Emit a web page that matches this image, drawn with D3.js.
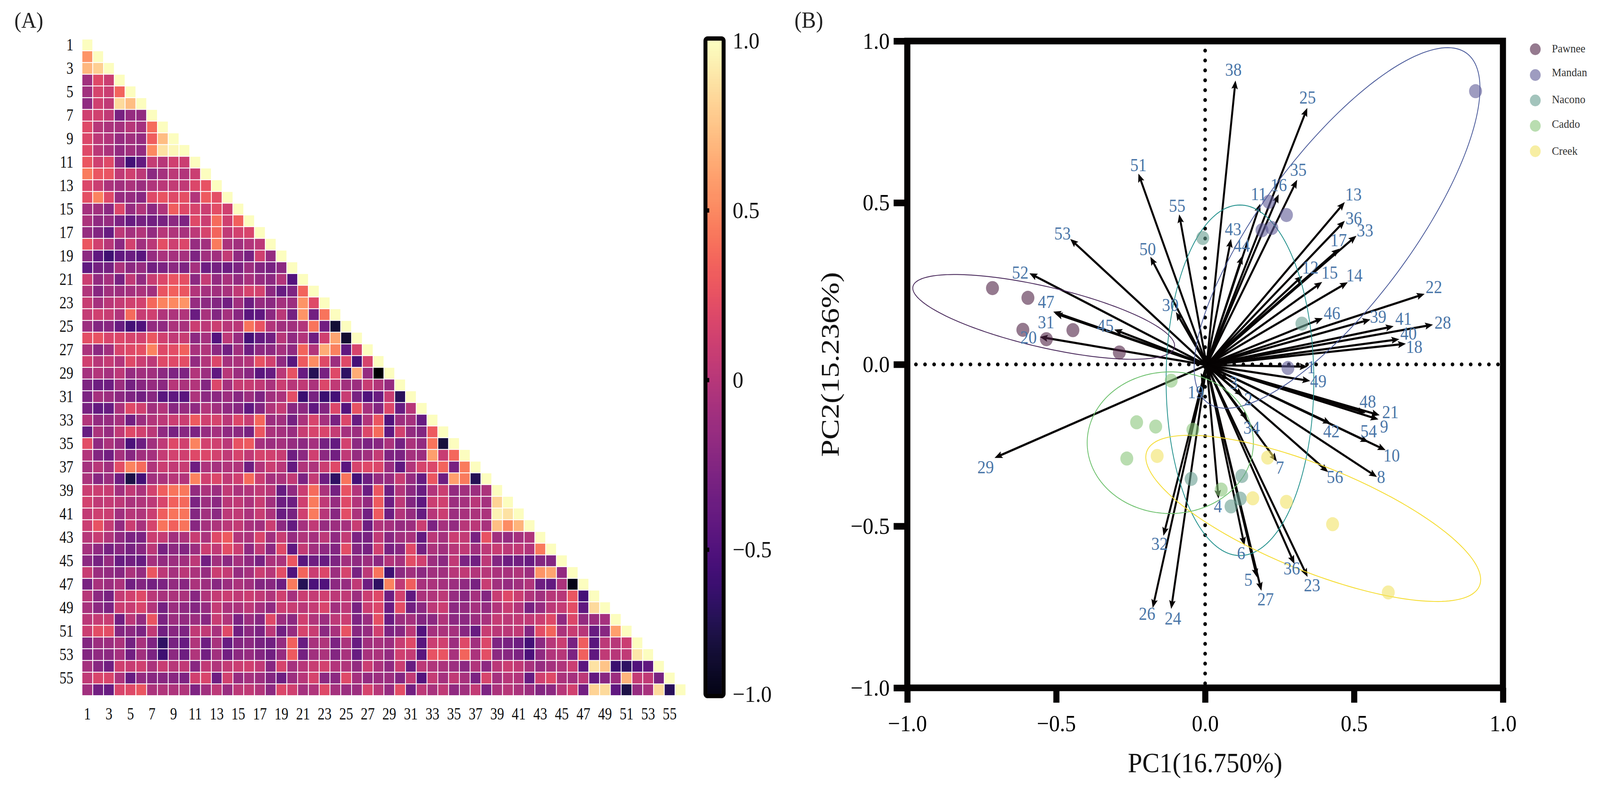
<!DOCTYPE html>
<html>
<head>
<meta charset="utf-8">
<script src="https://d3js.org/d3.v7.min.js"></script>
<style>
  html, body { margin: 0; height: 100%; background: #fff; overflow: hidden; }
  svg { display: block; width: 100vw; height: 100vh; }
  text { font-family: "Liberation Serif", serif; fill: #111; }
  .axis path, .axis line { stroke: #050303; }
</style>
</head>
<body>
<svg id="chart" viewBox="0 0 4451 2024" preserveAspectRatio="none"></svg>
<script>
// Correlation matrix, lower triangle
const corrRows = [
  [1],
  [.55,1],
  [.7,.8,1],
  [-.1,.2,.1,1],
  [-.1,.15,.1,.35,1],
  [-.18,.12,.05,.85,.72,1],
  [.12,.13,.05,-.3,-.15,-.17,1],
  [.2,0,-.05,-.08,0,-.08,.38,1],
  [.18,.03,-.02,-.15,-.1,-.15,.32,.72,1],
  [.2,.02,-.05,-.17,-.1,-.17,.5,.88,.97,1],
  [.28,.12,.2,-.2,-.55,-.4,.07,0,.12,.1,1],
  [.45,.28,.27,.05,.12,.03,-.2,-.08,.03,-.02,.1,1],
  [.18,.1,-.05,-.1,-.05,-.13,-.03,.02,.06,.05,.18,.25,1],
  [.24,.48,.2,-.15,-.15,-.22,.2,.26,.2,.24,-.02,.3,.23,1],
  [-.08,-.1,-.2,.18,-.15,-.03,-.2,-.03,.32,.2,.15,.1,.22,.12,1],
  [-.05,-.18,-.15,-.28,-.38,-.32,-.33,-.3,-.2,-.27,.2,.1,.38,.12,.33,1],
  [-.15,-.25,-.38,.03,-.08,-.02,-.17,0,-.03,-.07,.03,.15,.35,.05,.14,.17,1],
  [.28,.13,0,-.2,.14,-.1,.02,.23,.11,.18,-.15,-.1,.45,-.05,-.1,-.02,.03,1],
  [-.2,-.42,-.58,-.42,-.36,-.45,-.15,-.06,-.08,-.08,-.27,-.1,-.1,.06,-.18,-.3,.12,-.15,1],
  [-.42,-.32,-.32,-.05,-.2,-.15,-.33,-.28,-.2,-.27,-.08,-.35,-.32,-.35,-.28,-.12,-.25,-.3,-.2,1],
  [.1,-.17,-.08,-.3,.05,-.17,.08,.18,.27,.24,-.2,.07,-.17,-.07,-.17,-.07,-.15,-.2,-.02,-.48,1],
  [-.03,-.22,-.1,-.12,-.08,-.05,-.1,.27,.33,.28,-.02,-.08,-.1,-.07,.05,.15,.14,-.2,-.38,-.27,.35,1],
  [.08,-.08,.02,.07,.13,.14,.36,.48,.5,.55,-.15,-.2,-.25,-.33,-.1,-.35,-.15,-.2,-.08,-.13,.55,.2,1],
  [.07,.12,.08,-.03,.38,.08,.12,-.03,-.04,-.03,-.37,-.07,-.25,-.08,-.22,-.45,-.42,-.2,.02,-.32,.55,-.33,.42,1],
  [-.12,-.25,-.22,-.38,-.55,-.5,-.17,-.18,-.05,-.07,.1,.03,.1,.01,.02,.42,.26,-.02,-.1,-.1,-.02,.42,-.33,-.8,1],
  [.23,.25,.17,.18,.15,.14,.28,.12,.05,.08,-.2,-.08,-.48,.03,-.15,-.55,-.4,-.33,0,-.18,-.02,-.35,.12,.62,-.82,1],
  [-.05,-.2,-.1,.16,.2,.24,.48,.2,.22,.33,-.07,-.03,-.2,-.33,-.1,-.35,-.2,-.2,-.08,-.18,.35,-.02,.65,.47,-.42,.15,1],
  [.12,0,.07,-.02,.2,.1,.03,.2,.2,.22,-.17,-.02,.18,-.08,-.05,-.01,.25,.13,-.18,-.45,.3,.52,.2,-.12,.2,-.55,.15,1],
  [-.08,-.02,-.08,.03,-.15,-.1,-.1,-.2,-.27,-.27,-.02,-.12,-.42,0,-.13,-.22,-.45,-.38,.02,.25,-.38,-.7,-.3,.2,-.65,.65,-.17,-1,1],
  [-.27,-.35,-.35,-.13,-.32,-.22,-.15,-.2,0,-.05,-.02,-.25,.18,-.08,.08,.08,.05,-.06,.1,0,.05,-.05,.18,.05,-.1,-.12,.08,-.01,-.15,1],
  [-.28,-.08,-.12,-.2,-.27,-.33,-.22,-.45,-.42,-.45,-.04,-.2,-.2,-.12,-.22,-.12,-.27,-.1,-.05,.22,-.6,-.3,-.6,-.55,.08,-.3,-.5,-.37,.08,-.68,1],
  [-.3,-.4,-.38,-.05,.2,.12,-.1,-.02,-.22,-.15,-.18,-.02,-.1,-.18,-.22,-.42,-.25,-.03,.07,-.22,-.2,-.42,-.25,.18,-.48,.25,-.08,-.25,.18,-.38,0,1],
  [-.02,-.17,-.15,-.08,-.33,-.13,-.02,.03,.1,.1,.3,.12,.15,.02,.18,.08,.36,-.12,-.1,-.32,-.05,.16,-.08,-.3,.18,-.38,-.02,.28,-.5,-.12,-.08,-.38,1],
  [-.38,-.05,-.15,.05,.2,.13,.02,-.18,-.3,-.22,-.28,-.15,-.08,-.18,-.2,-.3,.28,-.05,-.08,-.14,.08,.16,.17,.07,-.08,-.12,.18,.38,-.42,.13,-.17,-.25,.3,1],
  [.22,-.18,-.05,-.15,-.52,-.35,-.1,.04,.2,.13,.48,.14,.12,.02,.25,.3,-.08,-.12,-.08,-.15,-.2,-.08,-.32,-.4,.14,-.2,-.28,-.22,-.05,-.32,-.05,-.17,.42,-.78,1],
  [-.02,-.25,-.33,-.08,-.22,-.1,-.08,.07,.14,.12,.2,.18,.14,.05,.15,.05,.15,.13,.08,-.35,-.2,.12,-.2,-.33,.04,-.15,-.1,.07,-.27,-.28,-.08,-.12,.6,.08,.36,1],
  [-.08,0,-.1,.22,.48,.38,-.03,.1,.06,.08,-.35,-.04,-.08,-.03,-.03,-.35,-.02,.1,.01,-.4,-.03,-.04,.1,.2,-.45,.15,.2,.18,-.14,-.42,-.02,.15,.18,.35,-.3,.45,1],
  [-.05,-.22,-.13,-.35,-.75,-.55,-.1,-.05,0,-.02,.48,.12,.18,.05,.12,.38,.1,-.08,-.05,.05,-.28,.06,-.35,-.65,.42,-.55,-.35,-.15,-.15,.08,-.15,-.38,.28,-.35,.6,.45,-.7,1],
  [.1,.1,.08,-.1,.05,-.05,.14,.32,.42,.43,-.17,-.05,-.12,.05,-.05,-.02,.05,0,-.38,-.18,.1,.38,-.05,-.32,.25,-.02,-.36,.28,-.35,-.02,-.2,-.36,-.02,.1,-.17,-.1,-.12,-.05,1],
  [.14,.05,.07,.03,-.05,-.03,.03,.17,.33,.37,-.28,-.12,-.2,.02,.05,-.05,.08,-.1,-.35,-.35,.12,.45,.04,-.15,.2,-.02,-.17,.3,-.35,.03,-.25,-.42,.1,.12,-.12,-.08,.01,-.08,.82,1],
  [.06,.11,.1,-.1,0,-.03,.1,.32,.42,.42,-.24,-.1,-.2,.03,.05,-.05,.08,-.05,-.37,-.3,.12,.45,0,-.22,.22,-.05,-.33,.3,-.35,-.02,-.15,-.38,0,.1,-.12,-.07,-.05,-.05,.95,.88,1],
  [.1,.25,.07,-.17,.1,-.07,.15,.42,.33,.42,-.22,-.08,-.04,.02,.06,-.07,-.1,.1,-.2,-.4,-.08,.05,-.15,-.12,-.08,.08,-.35,-.02,-.08,-.15,-.12,.1,-.28,-.08,-.17,0,.02,-.07,.73,.52,.68,1],
  [0,.08,-.03,-.18,-.28,-.28,.1,.07,-.1,-.04,.08,-.06,.2,.3,-.02,-.05,.17,-.1,.08,-.15,-.03,-.08,.03,-.18,.06,-.28,-.3,.05,-.22,-.1,-.07,-.4,.02,-.08,.1,.06,-.3,.25,-.1,-.15,-.08,-.03,1],
  [-.08,-.18,-.3,-.22,-.3,-.22,.02,-.3,-.2,-.25,-.13,.1,.05,.22,.1,-.18,.05,-.2,.2,-.42,.06,-.1,-.18,-.25,.22,-.25,-.3,.13,-.3,-.22,.2,-.32,-.05,-.1,0,.05,-.1,.03,.08,.03,.05,-.02,.45,1],
  [-.2,-.3,-.15,-.38,-.33,-.38,-.08,-.17,-.12,-.1,.03,-.33,-.1,-.2,-.08,-.18,-.3,-.05,-.05,.28,-.45,-.35,-.38,-.27,-.1,-.18,-.12,-.2,-.02,-.08,.22,.12,-.12,-.2,.05,-.28,-.33,.03,-.25,-.35,-.33,-.38,-.25,-.25,1],
  [.08,-.13,-.17,-.22,-.05,-.15,.28,.03,-.08,.02,-.05,-.15,.1,.07,-.15,-.08,.1,0,.22,-.5,.35,.1,.18,-.12,.15,-.3,.03,.42,-.58,-.2,-.1,-.2,-.1,-.1,0,.05,-.02,0,-.05,-.07,-.03,-.12,.55,.62,-.17,1],
  [-.3,-.07,-.12,-.05,-.33,-.25,-.32,-.28,-.17,-.22,-.05,-.12,-.22,-.13,-.05,-.1,-.25,-.22,-.35,.45,-.7,-.52,-.5,-.2,-.15,.05,-.35,-.65,.48,.05,.32,-.07,-.05,-.08,-.12,-.18,-.3,.08,-.1,-.15,-.1,-.03,-.35,-.4,-.05,-.92,1],
  [0,-.2,-.3,.07,.13,.2,.02,-.07,-.05,-.05,-.22,-.03,.07,.1,.05,.1,.05,-.03,.12,-.08,.1,.07,.12,.03,.05,-.12,.1,.2,-.35,.13,-.42,-.05,-.03,.03,-.15,-.22,-.08,-.25,.08,.2,.1,-.03,-.1,0,0,.28,-.55,1],
  [-.07,-.2,-.28,.1,.08,.17,-.02,-.32,-.13,-.18,-.24,-.15,.07,-.05,-.05,.03,-.08,-.18,.1,.08,.02,.07,.17,-.1,.03,-.3,.1,.18,-.37,.22,-.33,-.2,.03,.1,-.2,-.17,-.08,-.17,-.02,.08,-.02,-.3,-.15,.03,.07,.22,-.42,.85,1],
  [.02,.07,.08,-.33,.02,-.17,.27,-.28,-.13,-.17,-.13,-.22,.08,-.03,-.28,-.12,-.23,.2,-.13,-.2,.12,-.03,-.12,.03,.1,-.27,-.13,.24,-.37,-.13,-.08,-.25,-.2,-.03,-.2,-.2,-.13,-.07,.07,.03,.05,.04,.1,.2,-.18,.18,-.17,-.12,-.08,1],
  [.1,.22,.22,-.25,-.2,-.28,.05,-.33,-.22,-.27,.05,.05,-.07,.2,-.33,-.2,-.28,.02,-.33,-.15,.15,.08,-.2,-.07,.25,-.22,-.15,.12,-.28,-.22,.02,-.48,-.08,-.05,-.08,-.22,-.38,.08,.02,.02,.05,-.25,.22,.35,-.05,.08,0,-.38,-.22,.6,1],
  [-.25,-.12,-.12,-.05,-.32,-.07,-.27,-.65,-.3,-.38,-.03,-.35,-.07,-.38,-.25,-.2,-.3,-.33,-.15,.33,-.38,-.07,-.03,-.28,-.05,-.38,-.1,-.07,-.12,.08,.2,-.45,.1,.13,-.12,.2,-.1,.18,-.27,-.3,-.35,-.55,-.2,0,.1,-.3,.32,-.45,.03,0,.1,1],
  [-.25,-.18,-.2,-.08,-.33,-.1,-.28,-.58,-.2,-.35,-.03,-.33,-.1,-.33,-.2,-.15,-.25,-.33,-.15,.3,-.32,-.1,-.05,-.25,-.07,-.38,-.07,-.05,-.17,.12,.07,-.45,.25,.27,-.07,.35,-.05,.23,-.2,-.22,-.28,-.52,-.18,-.02,0,-.28,.33,-.42,.05,0,.05,.9,1],
  [-.08,-.22,-.33,.12,.08,.12,-.05,.08,0,.05,-.22,.05,-.03,.06,.1,.12,.05,-.22,.15,-.08,0,.08,.14,-.02,-.03,-.17,.1,-.05,-.18,.1,-.38,.03,-.03,-.05,-.12,-.2,-.03,-.2,.02,.1,.05,-.07,-.15,-.08,-.03,.1,-.45,.88,.75,-.6,-.65,-.5,-.42,1],
  [.05,.17,.17,-.05,-.38,-.17,-.22,-.22,-.22,-.27,.12,.17,-.35,.13,-.15,-.08,-.12,-.25,-.35,-.12,0,.15,-.2,-.2,.2,-.08,-.17,-.12,-.13,-.25,.05,-.48,.07,-.08,.05,-.07,-.28,.16,-.08,0,-.02,-.38,.12,.2,-.05,-.08,.03,-.4,-.22,-.12,.68,.07,.05,-.3,1],
  [-.1,-.33,-.38,.17,.2,.28,-.05,-.03,-.04,-.03,-.27,-.1,.03,-.14,.03,.05,-.02,-.2,.18,.12,-.08,-.03,.2,-.08,-.13,-.12,.15,0,-.15,.22,-.33,.03,-.07,.04,-.18,-.1,.06,-.28,-.05,0,-.05,-.13,-.25,-.2,0,.13,-.33,.82,.85,-.42,-.75,-.15,-.07,.85,-.68,1]
];
const traitIds = d3.range(1, 57);
const oddIds = traitIds.filter(d => d % 2 === 1);

// Colour bar labels: the lowest one sits at the clipped end of the bar
const barValues = [1, 0.5, 0, -0.5, -0.926];
const barLabels = ["1.0", "0.5", "0", "\u22120.5", "\u22121.0"];

// PCA scores
const groupNames = ["Pawnee", "Mandan", "Nacono", "Caddo", "Creek"];
const scorePC1 = [-.714,-.595,-.612,-.533,-.444,-.288, .908,.214,.273,.191,.224,.278, -.008,.325,-.047,.123,.118,.087, -.114,-.041,.054,-.230,-.166,-.263, -.161,.210,.160,.273,.428,.615];
const scorePC2 = [.236,.206,.107,.078,.106,.037, .845,.503,.462,.415,.422,-.011, .391,.126,-.354,-.345,-.415,-.439, -.050,-.202,-.387,-.179,-.192,-.291, -.283,-.288,-.414,-.425,-.494,-.705];
const scoreGroup = [0,0,0,0,0,0, 1,1,1,1,1,1, 2,2,2,2,2,2, 3,3,3,3,3,3, 4,4,4,4,4,4];

// Confidence ellipses per group
const ellipseCX = [-.542, .443, .117, -.117, .363];
const ellipseCY = [.147, .422, -.049, -.242, -.476];
const ellipseA = [.449, .694, .542, .279, .596];
const ellipseB = [.094, .244, .248, .219, .164];
const ellipseAngle = [-12, 50.5, 90, 0, -20.2];

// Loadings: the picture labels the arrow that should be 37 as a second 36
const loadingLabels = ["38","25","35","16","11","43","44","13","36","33","17","12","15","14","22","46","39","41","28","40","18","1","49","48","21","9","42","54","10","8","56","7","34","2","3","19","4","6","5","27","36","23","32","26","24","29","51","55","53","50","52","47","31","45","30","20"];
const loadingPC1 = [.102,.343,.309,.247,.185,.087,.125,.469,.469,.508,.451,.327,.393,.479,.737,.395,.555,.633,.765,.652,.674,.344,.353,.539,.586,.582,.422,.548,.606,.577,.413,.241,.142,.126,.078,-.013,.045,.132,.174,.189,.300,.344,-.140,-.176,-.114,-.707,-.224,-.087,-.453,-.184,-.590,-.510,-.505,-.305,-.098,-.555];
const loadingPC2 = [.878,.793,.571,.526,.497,.388,.336,.502,.444,.398,.358,.274,.255,.254,.218,.143,.139,.118,.123,.078,.064,-.007,-.051,-.150,-.157,-.170,-.183,-.240,-.265,-.348,-.333,-.300,-.170,-.097,-.047,-.055,-.415,-.560,-.658,-.700,-.617,-.657,-.530,-.753,-.756,-.289,.590,.464,.388,.333,.282,.163,.158,.108,.162,.085];
const labelPC1 = [.095,.344,.313,.247,.180,.094,.123,.498,.499,.537,.448,.353,.418,.501,.768,.426,.581,.666,.798,.683,.702,.356,.380,.546,.622,.601,.424,.549,.626,.591,.436,.251,.156,.145,.096,-.031,.043,.121,.145,.203,.291,.359,-.153,-.195,-.108,-.737,-.224,-.094,-.479,-.193,-.621,-.534,-.534,-.335,-.117,-.593];
const labelPC2 = [.911,.825,.602,.555,.527,.418,.368,.526,.452,.415,.385,.300,.284,.276,.240,.159,.147,.142,.130,.096,.055,-.008,-.052,-.115,-.147,-.192,-.206,-.207,-.282,-.348,-.348,-.319,-.196,-.107,-.057,-.086,-.439,-.583,-.666,-.726,-.631,-.683,-.555,-.771,-.785,-.318,.617,.491,.405,.357,.284,.193,.131,.120,.184,.084];

const groupColors = ["#4e2144", "#5d5a96", "#669d8f", "#8ac67b", "#f2e366"];
const ellipseColors = ["#4a2a5c", "#4a5a9a", "#21908c", "#6cc06c", "#f5dc30"];

const svg = d3.select("#chart");
svg.append("rect").attr("width", 4451).attr("height", 2024).attr("fill", "#fff");

const magma = v => d3.interpolateMagma((v + 1) / 2);

// Panel letters
svg.append("text").attr("x", 40).attr("y", 71).attr("font-size", 58).attr("fill", "#222").style("fill", "#222").text("(A)");
svg.append("text").attr("x", 2210).attr("y", 71).attr("font-size", 60).style("fill", "#222").text("(B)");

// ---- Heatmap ----
const cellX = d3.scaleBand().domain(traitIds).range([228, 1908]);
const cellY = d3.scaleBand().domain(traitIds).range([100, 1780]);

const cells = corrRows.flatMap((row, i) => row.map((v, j) => ({ row: i + 1, col: j + 1, v })));
svg.append("g").selectAll("rect").data(cells).enter().append("rect")
  .attr("x", d => cellX(d.col))
  .attr("y", d => cellY(d.row))
  .attr("width", cellX.bandwidth())
  .attr("height", cellY.bandwidth())
  .attr("fill", d => magma(d.v))
  .attr("stroke", "#fff")
  .attr("stroke-width", 2.2);

const heatBottom = d3.axisBottom(cellX).tickValues(oddIds).tickSize(0).tickPadding(0);
const heatLeft = d3.axisLeft(cellY).tickValues(oddIds).tickSize(0).tickPadding(0);

const hb = svg.append("g").attr("transform", "translate(0,1841)").call(heatBottom);
hb.select(".domain").remove();
hb.selectAll("text").attr("y", 0).attr("dy", 0).attr("font-size", 45).attr("font-family", null)
  .style("font-family", '"Liberation Serif", serif').attr("transform", "scale(0.86,1)");

const hl = svg.append("g").attr("transform", "translate(204,0)").call(heatLeft);
hl.select(".domain").remove();
hl.selectAll("text").attr("x", 0).attr("dy", 14).attr("font-size", 45).attr("font-family", null)
  .style("font-family", '"Liberation Serif", serif').attr("transform", "scale(0.86,1)");

// ---- Colour bar ----
const barY = d3.scaleLinear().domain([1, -0.926]).range([104, 1776]);
const barSteps = d3.range(0, 256).map(i => 1 - i * 1.926 / 255);
svg.append("g").selectAll("rect").data(barSteps).enter().append("rect")
  .attr("x", 1968).attr("width", 40)
  .attr("y", d => barY(d)).attr("height", 7.5)
  .attr("fill", d => magma(d));
svg.append("rect").attr("x", 1962.5).attr("y", 98.5).attr("width", 50.5).attr("height", 1682.5).attr("rx", 6)
  .attr("fill", "none").attr("stroke", "#040202").attr("stroke-width", 11);
svg.append("g").selectAll("rect").data(barValues.slice(1, 4)).enter().append("rect")
  .attr("x", 1966).attr("width", 7).attr("y", d => barY(d) - 5).attr("height", 11).attr("fill", "#040202");
svg.append("g").selectAll("text").data(barValues).enter().append("text")
  .attr("x", 2038).attr("y", d => barY(d) + 20)
  .attr("font-size", 60)
  .text((d, i) => barLabels[i]);

// ---- Biplot ----
const x = d3.scaleLinear().domain([-1, 1]).range([2524, 4181]);
const y = d3.scaleLinear().domain([-1, 1]).range([1760, 105]);
const frameWidth = 17;

const styleAxis = g => {
  g.attr("class", "axis");
  g.select(".domain").remove();
  g.selectAll("line").attr("stroke-width", frameWidth);
  g.selectAll("text").attr("font-size", 60).attr("font-family", null)
    .style("font-family", '"Liberation Serif", serif').style("fill", "#000");
};
const axisBottom = d3.axisBottom(x).tickValues([-1, -.5, 0, .5, 1]).tickFormat(d3.format(".1f")).tickSize(38).tickPadding(30);
const axisLeft = d3.axisLeft(y).tickValues([-1, -.5, 0, .5, 1]).tickFormat(d3.format(".1f")).tickSize(38).tickPadding(11);
svg.append("g").attr("transform", "translate(0,1760)").call(axisBottom).call(styleAxis);
svg.append("g").attr("transform", "translate(2524,0)").call(axisLeft).call(styleAxis);

svg.append("rect").attr("x", x(-1)).attr("y", y(1)).attr("width", x(1) - x(-1)).attr("height", y(-1) - y(1))
  .attr("fill", "none").attr("stroke", "#050303").attr("stroke-width", frameWidth);

// dotted zero lines
svg.append("line").attr("x1", 2548).attr("x2", 4172).attr("y1", y(0)).attr("y2", y(0))
  .attr("stroke", "#000").attr("stroke-width", 10).attr("stroke-linecap", "round").attr("stroke-dasharray", "0 25.3");
svg.append("line").attr("x1", x(0)).attr("x2", x(0)).attr("y1", 129.5).attr("y2", 1750)
  .attr("stroke", "#000").attr("stroke-width", 10).attr("stroke-linecap", "round").attr("stroke-dasharray", "0 25.3");

// loading arrows, line stops short so that it does not poke through the head
const arrowOrigin = [x(0.005), y(-0.002)];
const arrows = loadingLabels.map((label, i) => {
  const tipX = x(loadingPC1[i]), tipY = y(loadingPC2[i]);
  const angle = Math.atan2(tipY - arrowOrigin[1], tipX - arrowOrigin[0]);
  return { label, tipX, tipY, angle };
});
const arrowG = svg.append("g");
arrowG.selectAll("line").data(arrows).enter().append("line")
  .attr("x1", arrowOrigin[0]).attr("y1", arrowOrigin[1])
  .attr("x2", d => d.tipX - 14 * Math.cos(d.angle))
  .attr("y2", d => d.tipY - 14 * Math.sin(d.angle))
  .attr("stroke", "#060303").attr("stroke-width", 5.5);
arrowG.selectAll("path").data(arrows).enter().append("path")
  .attr("d", "M0,0L-22,-9L-18,0L-22,9Z")
  .attr("fill", "#060303")
  .attr("transform", d => `translate(${d.tipX},${d.tipY}) rotate(${d.angle * 180 / Math.PI})`);

// group ellipses
const ellipseLine = d3.line().x(d => x(d[0])).y(d => y(d[1])).curve(d3.curveLinearClosed);
groupNames.forEach((name, i) => {
  const th = ellipseAngle[i] * Math.PI / 180;
  const pts = d3.range(0, 360, 2).map(deg => {
    const t = deg * Math.PI / 180;
    const u = ellipseA[i] * Math.cos(t), v = ellipseB[i] * Math.sin(t);
    return [ellipseCX[i] + u * Math.cos(th) - v * Math.sin(th), ellipseCY[i] + u * Math.sin(th) + v * Math.cos(th)];
  });
  svg.append("path").attr("d", ellipseLine(pts)).attr("fill", "none")
    .attr("stroke", ellipseColors[i]).attr("stroke-width", 2.2);
});

// score points
svg.append("g").selectAll("circle").data(scorePC1).enter().append("circle")
  .attr("cx", d => x(d))
  .attr("cy", (d, i) => y(scorePC2[i]))
  .attr("r", 18)
  .attr("fill", (d, i) => groupColors[scoreGroup[i]])
  .attr("fill-opacity", 0.6);

// loading labels
svg.append("g").selectAll("text").data(loadingLabels).enter().append("text")
  .attr("x", (d, i) => x(labelPC1[i]))
  .attr("y", (d, i) => y(labelPC2[i]))
  .attr("dy", ".34em")
  .attr("text-anchor", "middle")
  .attr("font-size", 46)
  .style("fill", "#4a76a8")
  .text(d => d);

// axis titles
svg.append("text").attr("x", x(0)).attr("y", 1976).attr("text-anchor", "middle").attr("font-size", 72).text("PC1(16.750%)");
svg.append("text").attr("transform", `translate(2333,${y(0)}) rotate(-90) scale(1.1,1)`).attr("text-anchor", "middle").attr("font-size", 72).text("PC2(15.236%)");

// legend
const legendY = [126, 192, 257, 322, 387];
const legendTextY = [124, 185, 254, 317, 386];
const legend = svg.append("g");
legend.selectAll("circle").data(groupNames).enter().append("circle")
  .attr("cx", 4271).attr("cy", (d, i) => legendY[i]).attr("r", 15)
  .attr("fill", (d, i) => groupColors[i]).attr("fill-opacity", 0.6);
legend.selectAll("text").data(groupNames).enter().append("text")
  .attr("x", 4317).attr("y", (d, i) => legendTextY[i]).attr("dy", ".33em")
  .attr("font-size", 30).style("fill", "#333")
  .text(d => d);
</script>
</body>
</html>
